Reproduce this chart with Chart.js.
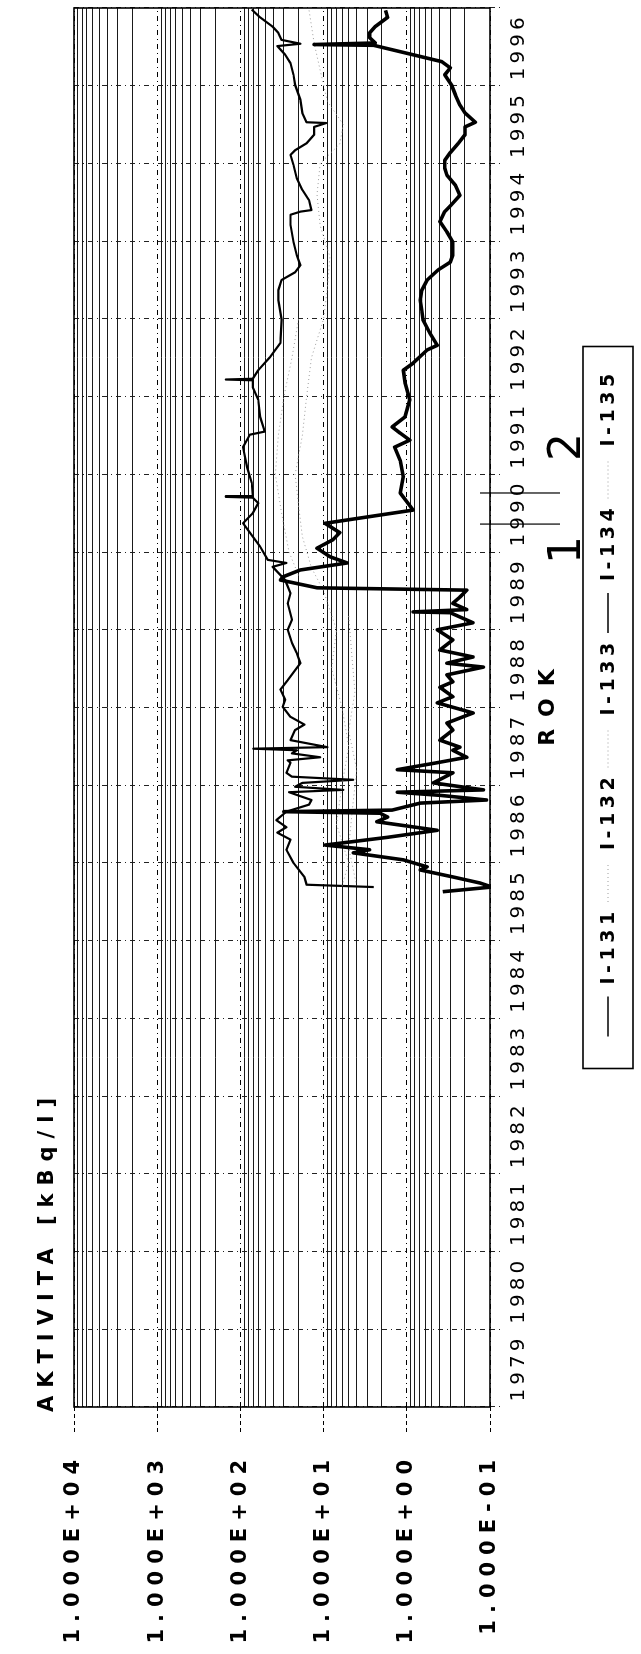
<!DOCTYPE html>
<html>
<head>
<meta charset="utf-8">
<title>Aktivita jodu</title>
<script src="https://cdn.jsdelivr.net/npm/chart.js@4.4.1/dist/chart.umd.min.js"></script>
<style>
  html, body { margin: 0; padding: 0; background: #fff; overflow: hidden; }
  /* graf se kreslí naležato a celý se otočí o 90° doleva */
  #otoc { position: absolute; left: 0; top: 0; width: 1654px; height: 641px;
          transform-origin: 0 0; transform: translate(0, 1654px) rotate(-90deg); }
</style>
</head>
<body>
<div id="otoc"><canvas id="graf" width="1654" height="641"></canvas></div>
<script>
// Osy
const rozsahRoku = [1979, 1997];
const dekady = [10000, 1000, 100, 10, 1, 0.1];
const popisyDekad = ['1.000E+04', '1.000E+03', '1.000E+02', '1.000E+01', '1.000E+00', '1.000E-01'];
const vedlejsiMrizka = [];
for (let e = -1; e <= 3; e++) for (let m = 2; m <= 9; m++) vedlejsiMrizka.push(m * Math.pow(10, e));
const hraniceObdobi = [1990.36, 1990.76];   // značky 1 || 2

// I-131 (silná čára)
const rokyI131 = [1985.63, 1985.69, 1985.74, 1985.82, 1985.91, 1985.95, 1986.04, 1986.13, 1986.17, 1986.23,
  1986.33, 1986.42, 1986.53, 1986.59, 1986.64, 1986.66, 1986.68, 1986.77, 1986.81, 1986.87,
  1986.91, 1986.94, 1987.03, 1987.16, 1987.20, 1987.29, 1987.36, 1987.45, 1987.49, 1987.58,
  1987.71, 1987.80, 1987.93, 1988.06, 1988.14, 1988.26, 1988.33, 1988.42, 1988.52, 1988.57,
  1988.65, 1988.74, 1988.87, 1989.00, 1989.09, 1989.22, 1989.23, 1989.26, 1989.34, 1989.42,
  1989.51, 1989.54, 1989.64, 1989.68, 1989.77, 1989.86, 1989.94, 1990.05, 1990.16, 1990.25,
  1990.37, 1990.54, 1990.76, 1990.97, 1991.18, 1991.35, 1991.44, 1991.53, 1991.61, 1991.74,
  1991.96, 1992.18, 1992.34, 1992.43, 1992.60, 1992.66, 1992.82, 1992.99, 1993.11, 1993.24,
  1993.37, 1993.50, 1993.63, 1993.73, 1993.82, 1993.99, 1994.12, 1994.25, 1994.38, 1994.47,
  1994.59, 1994.72, 1994.85, 1994.94, 1995.04, 1995.14, 1995.26, 1995.37, 1995.47, 1995.53,
  1995.65, 1995.75, 1995.88, 1996.01, 1996.14, 1996.23, 1996.31, 1996.52, 1996.53, 1996.55,
  1996.62, 1996.68, 1996.76, 1996.88, 1996.97];
const aktI131 = [0.37, 0.095, 0.13, 0.28, 0.69, 0.57, 1.1, 4.4, 2.8, 9.6,
  1.7, 0.43, 2.3, 1.7, 2.1, 30, 1.5, 0.69, 0.11, 0.40,
  1.3, 0.12, 0.48, 0.28, 1.3, 0.43, 0.19, 0.28, 0.23, 0.40,
  0.28, 0.33, 0.16, 0.43, 0.28, 0.40, 0.28, 0.33, 0.12, 0.33,
  0.16, 0.40, 0.28, 0.43, 0.16, 0.30, 0.84, 0.19, 0.28, 0.23,
  0.19, 12, 33, 31, 19, 5.2, 8.4, 12, 7.7, 6.4,
  9.6, 0.84, 1.2, 1.1, 1.2, 1.4, 0.92, 1.2, 1.5, 1.05,
  0.92, 1.05, 1.1, 0.84, 0.57, 0.43, 0.53, 0.64, 0.66, 0.69,
  0.66, 0.57, 0.42, 0.30, 0.28, 0.28, 0.33, 0.40, 0.35, 0.29,
  0.23, 0.26, 0.33, 0.35, 0.35, 0.30, 0.24, 0.20, 0.20, 0.15,
  0.20, 0.23, 0.26, 0.29, 0.35, 0.30, 0.38, 2.5, 13, 2.4,
  2.8, 2.8, 2.4, 1.7, 1.8];

// I-134
const rokyI134 = [1985.69, 1985.72, 1985.82, 1986.00, 1986.17, 1986.30, 1986.39, 1986.46, 1986.55, 1986.66,
  1986.75, 1986.81, 1986.85, 1986.91, 1986.94, 1986.98, 1987.03, 1987.07, 1987.11, 1987.16,
  1987.29, 1987.32, 1987.36, 1987.41, 1987.45, 1987.47, 1987.49, 1987.58, 1987.71, 1987.78,
  1987.88, 1988.01, 1988.10, 1988.23, 1988.35, 1988.48, 1988.57, 1988.70, 1988.83, 1989.00,
  1989.13, 1989.34, 1989.47, 1989.64, 1989.81, 1989.86, 1989.90, 1990.07, 1990.25, 1990.37,
  1990.50, 1990.63, 1990.70, 1990.71, 1990.72, 1990.89, 1991.09, 1991.35, 1991.51, 1991.55,
  1991.74, 1991.96, 1992.12, 1992.21, 1992.22, 1992.23, 1992.34, 1992.51, 1992.69, 1992.99,
  1993.24, 1993.37, 1993.50, 1993.60, 1993.69, 1993.82, 1993.99, 1994.21, 1994.34, 1994.38,
  1994.40, 1994.53, 1994.66, 1994.81, 1994.98, 1995.11, 1995.17, 1995.26, 1995.37, 1995.47,
  1995.52, 1995.53, 1995.65, 1995.82, 1996.01, 1996.14, 1996.29, 1996.40, 1996.51, 1996.54,
  1996.59, 1996.68, 1996.76, 1996.88, 1996.98];
const aktI134 = [2.5, 16, 17, 23, 28, 25, 36, 28, 37, 28,
  15, 14, 18, 26, 5.8, 22, 18, 4.4, 24, 28,
  25, 27, 11, 24, 21, 70, 9, 25, 22, 17,
  25, 31, 29, 33, 27, 22, 19, 21, 24, 27,
  24, 27, 25, 29, 41, 28, 47, 58, 77, 93,
  71, 61, 71, 150, 71, 73, 83, 93, 77, 51,
  58, 61, 71, 71, 150, 71, 61, 44, 33, 32,
  35, 35, 32, 22, 19, 21, 23, 25, 25, 19,
  14, 15, 18, 21, 23, 25, 22, 16, 13, 13,
  9.3, 16, 18, 19, 22, 23, 25, 29, 36, 19,
  32, 35, 41, 58, 73];

// slabé tečkované stopy
const rokyI132 = [1989.7, 1990.0, 1990.5, 1991.0, 1991.5, 1992.0, 1992.5, 1993.0];
const aktI132 = [20, 26, 32, 38, 35, 30, 24, 20];
const rokyI133 = [1985.7, 1986.0, 1986.5, 1987.0, 1987.5, 1988.0, 1988.5, 1989.0, 1989.5, 1989.8,
  1990.2, 1990.6, 1991.0, 1991.5, 1992.0, 1992.5, 1993.0, 1993.4, 1993.8, 1994.2,
  1994.6, 1995.0, 1995.25, 1995.5, 1995.8, 1996.2, 1996.55, 1996.98];
const aktI133 = [6, 5, 7, 6, 5, 6, 8, 7, 10, 14,
  18, 20, 22, 18, 16, 14, 10, 9, 8.4, 11,
  12, 11, 6.4, 5.8, 9, 11, 13, 15];
const rokyI135 = [1985.7, 1986.2, 1986.7, 1987.2, 1987.7, 1988.2, 1988.7, 1989.2];
const aktI135 = [4, 5, 4.5, 4, 5, 4.2, 4.6, 5];

const body = (roky, hodnoty) => roky.map((r, i) => ({ x: r, y: hodnoty[i] }));

// popisky, rámeček a legenda
const popisy = {
  id: 'popisy',
  beforeDraw(chart) {
    chart.ctx.letterSpacing = '4px';
  },
  afterDraw(chart) {
    const { ctx, chartArea: a, scales } = chart;
    ctx.save();
    ctx.fillStyle = '#000';
    ctx.strokeStyle = '#000';
    ctx.lineWidth = 1.6;
    ctx.strokeRect(a.left, a.top, a.right - a.left, a.bottom - a.top);

    ctx.font = 'bold 21px "DejaVu Sans"';
    ctx.letterSpacing = '7px';
    ctx.textAlign = 'right';
    ctx.textBaseline = 'middle';
    dekady.forEach((v, i) => ctx.fillText(popisyDekad[i], a.left - 46, scales.y2.getPixelForValue(v)));

    ctx.letterSpacing = '8px';
    ctx.textAlign = 'left';
    ctx.fillText('AKTIVITA [kBq/l]', a.left - 5, 48);

    ctx.font = 'bold 22px "DejaVu Sans"';
    ctx.letterSpacing = '12px';
    ctx.textAlign = 'center';
    ctx.fillText('ROK', (a.left + a.right) / 2 + 6, 548);

    // 1 || 2
    ctx.font = '44px "DejaVu Sans"';
    ctx.letterSpacing = '0px';
    const h1 = scales.x.getPixelForValue(hraniceObdobi[0]);
    const h2 = scales.x.getPixelForValue(hraniceObdobi[1]);
    ctx.lineWidth = 1.2;
    [h1, h2].forEach(h => { ctx.beginPath(); ctx.moveTo(h, a.bottom - 10); ctx.lineTo(h, a.bottom + 70); ctx.stroke(); });
    ctx.fillText('1', h1 - 26, 569);
    ctx.fillText('2', h2 + 46, 569);

    // legenda
    const sirka = 722, vyska = 50, horni = 583;
    const levy = (a.left + a.right) / 2 - sirka / 2;
    ctx.lineWidth = 1.6;
    ctx.strokeRect(levy, horni, sirka, vyska);
    ctx.font = 'bold 19px "DejaVu Sans"';
    ctx.letterSpacing = '4.5px';
    ctx.textAlign = 'left';
    chart.data.datasets.forEach((ds, i) => {
      const x0 = levy + 32 + i * 134.5;
      const y0 = horni + vyska / 2;
      ctx.save();
      ctx.strokeStyle = ds.borderColor;
      ctx.lineWidth = Math.min(ds.borderWidth, 1.6);
      ctx.setLineDash(ds.borderDash || []);
      ctx.beginPath(); ctx.moveTo(x0, y0); ctx.lineTo(x0 + 40, y0); ctx.stroke();
      ctx.restore();
      ctx.fillText(ds.label, x0 + 52, y0 + 1);
    });
    ctx.restore();
  }
};

Chart.defaults.font.family = '"DejaVu Sans", sans-serif';
Chart.defaults.color = '#000';

const ctx = document.getElementById('graf').getContext('2d');
const graf = new Chart(ctx, {
  type: 'line',
  data: {
    datasets: [
      { label: 'I-131', data: body(rokyI131, aktI131), borderColor: '#000', borderWidth: 3.6 },
      { label: 'I-132', data: body(rokyI132, aktI132), borderColor: '#9c9c9c', borderWidth: 1, borderDash: [1, 3] },
      { label: 'I-133', data: body(rokyI133, aktI133), borderColor: '#9c9c9c', borderWidth: 1, borderDash: [1, 3] },
      { label: 'I-134', data: body(rokyI134, aktI134), borderColor: '#000', borderWidth: 2.2 },
      { label: 'I-135', data: body(rokyI135, aktI135), borderColor: '#9c9c9c', borderWidth: 1, borderDash: [1, 3] }
    ]
  },
  options: {
    responsive: false,
    animation: false,
    devicePixelRatio: 1,
    elements: {
      point: { radius: 0 },
      line: { tension: 0, borderJoinStyle: 'round', fill: false }
    },
    layout: { padding: { left: 0, right: 8, top: 74, bottom: 76 } },
    plugins: {
      legend: { display: false },
      title: { display: false },
      tooltip: { enabled: false }
    },
    scales: {
      x: {
        type: 'linear', position: 'bottom',
        min: rozsahRoku[0], max: rozsahRoku[1],
        afterFit: s => { s.height = 75; },
        ticks: {
          stepSize: 1, autoSkip: false, maxRotation: 0, labelOffset: 39, padding: 5,
          font: { size: 20 },
          callback: v => (v < rozsahRoku[1] ? String(v) : '')
        },
        grid: { color: '#222', lineWidth: 1, tickLength: 12, tickBorderDash: [5, 4, 1, 4] },
        border: { display: false, dash: [5, 4, 1, 4] }
      },
      y: {
        type: 'logarithmic', position: 'left', weight: 1,
        min: 0.1, max: 10000,
        afterBuildTicks: s => { s.ticks = vedlejsiMrizka.map(v => ({ value: v })); },
        afterFit: s => { s.width = 247; },
        ticks: { display: false },
        grid: { color: '#1a1a1a', lineWidth: 1, drawTicks: false },
        border: { display: false }
      },
      y2: {
        type: 'logarithmic', position: 'left', weight: 0,
        min: 0.1, max: 10000,
        afterBuildTicks: s => { s.ticks = dekady.map(v => ({ value: v })); },
        afterFit: s => { s.width = 0; },
        ticks: { display: false },
        grid: { color: '#000', lineWidth: 1, tickLength: 25, tickBorderDash: [4, 3] },
        border: { display: false, dash: [5, 4, 1, 4] }
      }
    }
  },
  plugins: [popisy]
});
</script>
</body>
</html>
